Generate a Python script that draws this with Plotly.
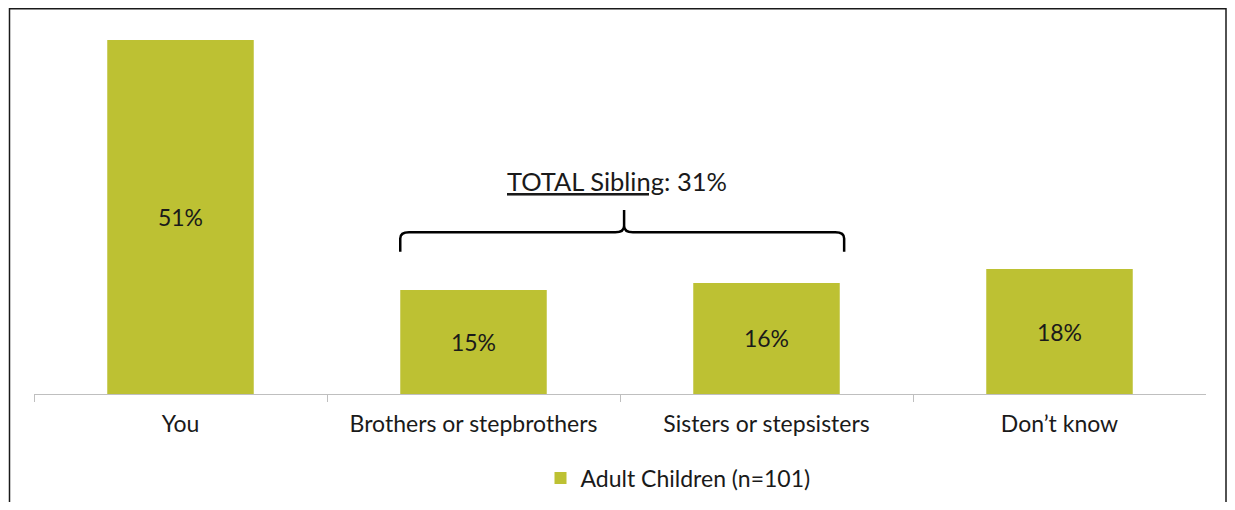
import plotly.graph_objects as go

categories = ["You", "Brothers or stepbrothers", "Sisters or stepsisters", "Don\u2019t know"]
values = [51, 15, 16, 18]
labels = ["51%", "15%", "16%", "18%"]
series_name = "Adult Children (n=101)"
total_label = "<u>TOTAL Sibling</u>: 31%"

FONT = "Lato, sans-serif"
BAR = "#BDC133"
FS = 23

fig = go.Figure()
fig.add_trace(go.Bar(
    x=list(range(len(categories))), y=values, name=series_name,
    marker=dict(color=BAR, line=dict(width=0)),
    width=0.5, text=labels, textposition="inside", insidetextanchor="middle",
    textfont=dict(family=FONT, size=FS, color="#1a1a1a"),
    textangle=0, showlegend=True,
))

OFF = 8  # page body offset
W, H = 1235 - 2 * OFF, 510 - 2 * OFF
# target page-pixel plot area: x 34..1206, bottom at 394
L = 34 - OFF
T = 20 - OFF
R = W - (1206 - OFF)
B = H - (394 - OFF)
pw, ph = W - L - R, H - T - B
def px(x): return (x - OFF - L) / pw
def py(y): return (H - B - (y - OFF)) / ph
def cx(x): return (x - OFF) / W
def cy(y): return (H - (y - OFF)) / H

# frame
fig.add_shape(type="rect", xref="paper", yref="paper",
              x0=px(9.5), x1=px(1226), y0=py(530), y1=py(8.8),
              line=dict(color="#1a1a1a", width=1.5), fillcolor="rgba(0,0,0,0)", layer="above")

# brace
x0, x1, xc = 0.75, 2.265, 1.514
yt, yb, yn = 23.3, 20.5, 26.5
r = 0.03
path = (f"M {x0},{yb} L {x0},{yt-0.9} Q {x0},{yt} {x0+r},{yt} "
        f"L {xc-r},{yt} Q {xc},{yt} {xc},{yt+0.9} L {xc},{yn} "
        f"M {xc},{yt+0.9} Q {xc},{yt} {xc+r},{yt} "
        f"L {x1-r},{yt} Q {x1},{yt} {x1},{yt-0.9} L {x1},{yb}")
fig.add_shape(type="path", xref="x", yref="y", path=path,
              line=dict(color="black", width=2.5))
fig.add_annotation(x=1.49, y=30.7, xref="x", yref="y", text=total_label,
                   showarrow=False, font=dict(family=FONT, size=25.5, color="#1a1a1a"))

fig.update_layout(
    width=W, height=H, margin=dict(l=L, r=R, t=T, b=B, autoexpand=False),
    paper_bgcolor="white", plot_bgcolor="white",
    font=dict(family=FONT, size=FS, color="#1a1a1a"),
    xaxis=dict(tickmode="array", tickvals=list(range(len(categories))), ticktext=categories,
               range=[-0.5, 3.5], showline=True, linecolor="#BFBFBF", linewidth=1,
               ticks="", showgrid=False, zeroline=False, tickfont=dict(size=FS),
               ticklabelstandoff=9, automargin=False,
               minor=dict(tickmode="array", tickvals=[-0.5, 0.5, 1.5, 2.5], ticks="outside",
                          ticklen=7, tickcolor="#BFBFBF", tickwidth=1, showgrid=False)),
    yaxis=dict(range=[0, 53.9], visible=False, showgrid=False, zeroline=False),
    showlegend=True,
    legend=dict(orientation="h", xref="container", yref="container",
                x=cx(678), xanchor="center", y=cy(478), yanchor="middle",
                font=dict(size=FS), bgcolor="rgba(0,0,0,0)"),
)

fig.write_html("out.html")
